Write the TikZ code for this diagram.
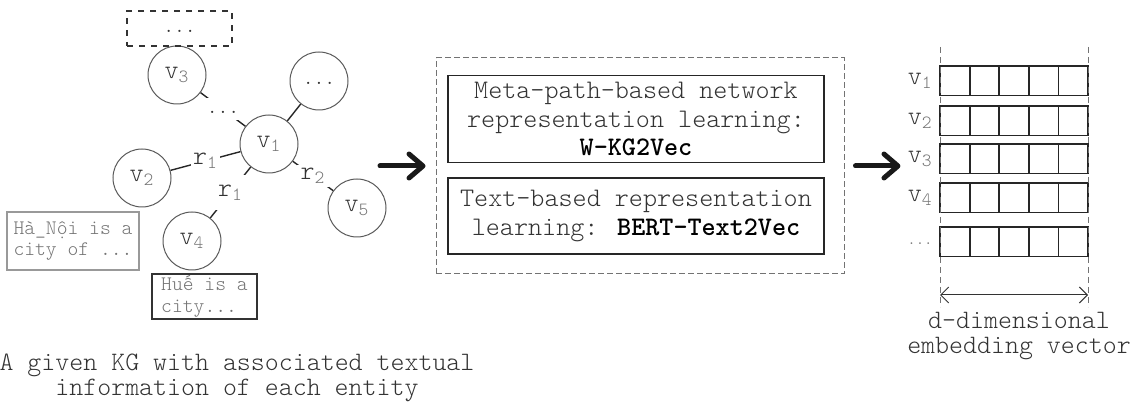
\documentclass[tikz,border=0pt]{standalone}
\usepackage{fontspec}
\setmainfont{Latin Modern Mono Light}
\usetikzlibrary{arrows.meta}

\definecolor{ink}{gray}{0.2}
\definecolor{soft}{gray}{0.45}
\definecolor{rim}{gray}{0.35}

\newcommand{\ent}[1]{v\textsubscript{\textcolor{soft}{#1}}}
\newcommand{\rel}[1]{r\textsubscript{\textcolor{soft}{#1}}}
\newcommand{\algo}[1]{\textcolor{black}{\textbf{#1}}}

\begin{document}
\begin{tikzpicture}[x=0.5pt, y=-0.5pt,
  ent/.style={circle, draw=rim, line width=0.5pt, minimum size=29pt, inner sep=0pt,
    text=ink, font=\fontsize{13.3}{15}\selectfont},
  edge/.style={draw=black!85, line width=0.7pt},
  elab/.style={fill=white, inner sep=#1, text=ink, font=\fontsize{13.3}{15}\selectfont},
  elab/.default=1pt,
  dots/.style={font=\fontsize{10.3}{11}\selectfont, text height=4pt, text depth=0pt},
  desc/.style={draw, line width=0.6pt, align=left, inner sep=0pt, text=soft,
    font=\fontsize{10.3}{10.7}\selectfont},
  method/.style={draw=black!85, line width=0.8pt, minimum width=188pt, align=center,
    text=ink, font=\fontsize{13.4}{14.2}\selectfont},
  bigarrow/.style={draw=black!90, line width=2.5pt, line cap=round,
    -{Straight Barb[length=7pt, width=12pt, round]}},
  cell/.style={draw=black!85, line width=0.9pt},
  guide/.style={draw=soft, line width=0.5pt, dash pattern=on 3pt off 2pt},
  dim/.style={draw=ink, line width=0.5pt, <->, >={Straight Barb[length=4pt, width=8pt]}}]

\useasboundingbox (0,0) rectangle (1132,406);

% Entities of the KG
\node[ent] (v1) at (269,144) {\ent{1}};
\node[ent] (v2) at (142,178) {\ent{2}};
\node[ent] (v3) at (177,75) {\ent{3}};
\node[ent] (v4) at (192,241) {\ent{4}};
\node[ent] (v5) at (357,208) {\ent{5}};
\node[ent, dots] (vn) at (319,81) {...};

% Relations
\draw[edge] (v1) -- (vn);
\draw[edge] (v3) -- node[elab=3.5pt, dots] {...} (v1);
\draw[edge] (v1) -- node[elab] {\rel{1}} (v2);
\draw[edge] (v1) -- node[elab=5pt] {\rel{1}} (v4);
\draw[edge] (v1) -- node[elab=1.8pt] {\rel{2}} (v5);

% Textual descriptions
\node[desc, dashed, draw=ink, text=ink, align=center, minimum width=52.5pt, minimum height=17.5pt, dots]
  (d3) at (179.5,28.5) {...};
\node[desc, draw=black!40, minimum width=66pt, minimum height=29pt]
  (d2) at (73,241) {Hà\_Nội is a\\city of ...};
\node[desc, draw=ink, minimum width=52.5pt, minimum height=22.5pt]
  (d4) at (204.5,296.5) {Huế is a\\city...};

\node[align=center, text=ink, font=\fontsize{13.3}{12.5}\selectfont] (kgcap) at (237,377.5)
  {A given KG with associated textual\\information of each entity};

% Representation learning
\node[draw=soft, line width=0.5pt, dash pattern=on 3pt off 1.5pt,
  minimum width=204pt, minimum height=108pt] (model) at (640,166) {};
\node[method, minimum height=43pt] (kg2vec) at (636,119)
  {Meta-path-based network\\representation learning:\\\algo{W-KG2Vec}};
\node[method, minimum height=38pt] (text2vec) at (636,216)
  {Text-based representation\\learning: \algo{BERT-Text2Vec}};

% Embedding vectors
\foreach \row/\ry in {1/66, 2/106, 3/144, 4/183} {
  \node[anchor=east, inner sep=0pt, text=ink, font=\fontsize{13.3}{15}\selectfont]
    (lab\row) at (933,\ry+15) {\ent{\row}};
}
\node[text=soft, font=\fontsize{8}{8}\selectfont, text height=3pt, text depth=0pt]
  (lab5) at (920,242) {...};
\foreach \ry in {66, 106, 144, 183, 227}
  \foreach \c in {0,...,4}
    \draw[cell] (940+29.6*\c,\ry) rectangle ++(29.6,29.5);

\draw[guide] (940,47) -- (940,307);
\draw[guide] (1088,47) -- (1088,307);
\draw[dim] (940,295) -- (1088,295);
\node[align=center, text=ink, font=\fontsize{13.3}{12.5}\selectfont] (dimlab) at (1019,336)
  {d-dimensional\\embedding vector};

% Arrows
\coordinate (kgout) at (380,166);
\draw[bigarrow] (kgout) -- ([xshift=-5pt]model.west);
\draw[bigarrow] ([xshift=5.5pt]model.east) -- ([xshift=-3.5pt]model.east -| lab3.west);

\end{tikzpicture}
\end{document}
